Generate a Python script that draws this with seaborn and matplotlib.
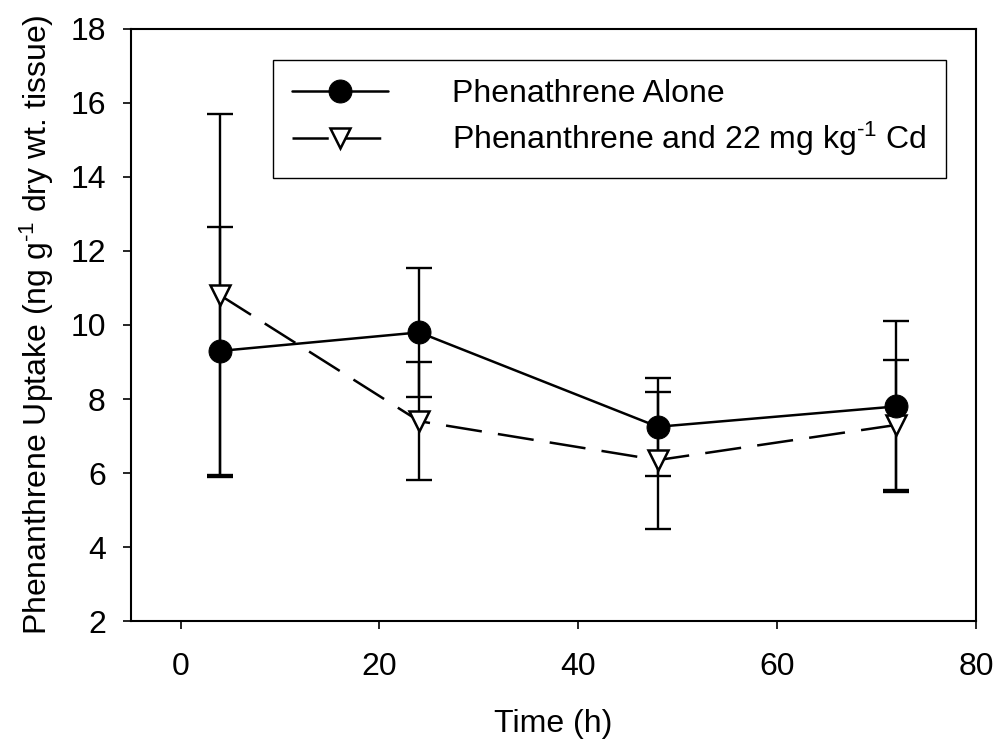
import numpy as np
import pandas as pd
import matplotlib
matplotlib.use("Agg")
import matplotlib.pyplot as plt
import seaborn as sns

time_h = [4, 24, 48, 72]
alone_mean = [9.3, 9.8, 7.25, 7.8]
alone_err = [3.35, 1.75, 1.33, 2.32]
cd_mean = [10.8, 7.4, 6.35, 7.3]
cd_err = [4.9, 1.6, 1.85, 1.75]
series_labels = ["Phenathrene Alone", r"Phenanthrene and 22 mg kg$^{\text{-}1}$ Cd"]
x_ticks = [0, 20, 40, 60, 80]
y_ticks = [2, 4, 6, 8, 10, 12, 14, 16, 18]

sns.set_style("ticks")
plt.rcParams['font.family'] = ['Liberation Sans', 'DejaVu Sans']
plt.rcParams['mathtext.fontset'] = 'custom'
plt.rcParams['mathtext.rm'] = 'Liberation Sans'
plt.rcParams['mathtext.it'] = 'Liberation Sans'
plt.rcParams['mathtext.default'] = 'regular'
plt.rcParams['text.color'] = 'black'
plt.rcParams['axes.labelcolor'] = 'black'

FS = 23
fig, ax = plt.subplots(figsize=(9.99, 7.42), dpi=100)
fig.subplots_adjust(left=0.131, right=0.977, top=0.961, bottom=0.163)

lw = 1.8
ax.errorbar(time_h, alone_mean, yerr=alone_err, fmt='none', ecolor='black',
            elinewidth=1.7, capsize=9.5, capthick=1.7, zorder=2)
ax.errorbar(time_h, cd_mean, yerr=cd_err, fmt='none', ecolor='black',
            elinewidth=1.7, capsize=9.5, capthick=1.7, zorder=2)

df1 = pd.DataFrame({"t": time_h, "v": alone_mean})
df2 = pd.DataFrame({"t": time_h, "v": cd_mean})

sns.lineplot(data=df1, x="t", y="v", ax=ax, color='black', linewidth=lw,
             marker='o', markersize=16.5, markerfacecolor='black',
             markeredgecolor='black', label=series_labels[0], zorder=4)
sns.lineplot(data=df2, x="t", y="v", ax=ax, color='black', linewidth=lw,
             linestyle=(0, (14.5, 6.5)),
             marker='v', markersize=15, markerfacecolor='white',
             markeredgecolor='black', markeredgewidth=1.8,
             label=series_labels[1], zorder=3)

ax.set_xlim(-5, 80)
ax.set_ylim(2, 18)
ax.set_xticks(x_ticks)
ax.set_yticks(y_ticks)
ax.tick_params(axis='both', labelsize=FS, direction='out', length=6,
               width=1.2, color='black', labelcolor='black')
ax.tick_params(axis='y', pad=12)
ax.tick_params(axis='x', pad=16)
for s in ax.spines.values():
    s.set_visible(True)
    s.set_linewidth(1.5)
    s.set_color('black')

ax.set_xlabel("Time (h)", fontsize=FS, labelpad=20)
ax.set_ylabel(r"Phenanthrene Uptake (ng g$^{\text{-}1}$ dry wt. tissue)", fontsize=FS, labelpad=10)

leg = ax.legend(loc='upper left', bbox_to_anchor=(0.168, 0.948), borderaxespad=0,
                fontsize=FS, frameon=True, fancybox=False, shadow=False,
                framealpha=1, edgecolor='black', handlelength=3.0,
                handletextpad=2.0, labelspacing=0.35, borderpad=0.6)
leg.get_frame().set_linewidth(1.0)
for t in leg.get_texts():
    t.set_color('black')

fig.savefig("out.png", dpi=100)
